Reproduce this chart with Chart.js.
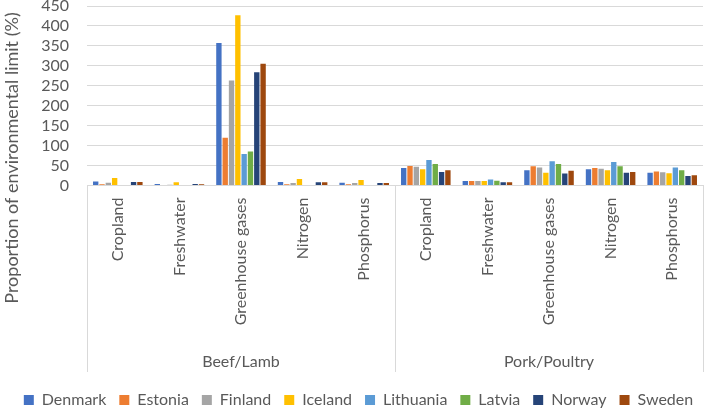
<!DOCTYPE html>
<html>
<head>
<meta charset="utf-8">
<script src="https://cdn.jsdelivr.net/npm/chart.js@4/dist/chart.umd.min.js"></script>
<style>
  html, body { margin: 0; padding: 0; background: #fff; }
  #wrap { width: 707px; height: 410px; }
</style>
</head>
<body>
<div id="wrap"><canvas id="chart"></canvas></div>
<script>
// categories (two groups of five)
const categories = ['Cropland', 'Freshwater', 'Greenhouse gases', 'Nitrogen', 'Phosphorus',
                    'Cropland', 'Freshwater', 'Greenhouse gases', 'Nitrogen', 'Phosphorus'];
const groups = ['Beef/Lamb', 'Pork/Poultry'];
const yTicks = [0, 50, 100, 150, 200, 250, 300, 350, 400, 450];

// values per country, % of environmental limit
const denmark   = [10, 4, 357, 9, 7, 44, 11, 38, 41, 32];
const estonia   = [3, 1, 120, 3, 3, 49, 11, 48, 44, 35];
const finland   = [7, 2, 263, 6, 6, 47, 11, 45, 42, 33];
const iceland   = [19, 8, 427, 16, 14, 41, 11, 32, 38, 31];
const lithuania = [1, 1, 79, 1, 1, 64, 15, 61, 59, 45];
const latvia    = [1, 1, 85, 1, 1, 54, 12, 54, 48, 38];
const norway    = [9, 4, 284, 8, 6, 34, 8, 30, 32, 24];
const sweden    = [9, 3, 305, 8, 6, 38, 8, 37, 34, 26];

const countries = ['Denmark', 'Estonia', 'Finland', 'Iceland', 'Lithuania', 'Latvia', 'Norway', 'Sweden'];
const series = [denmark, estonia, finland, iceland, lithuania, latvia, norway, sweden];
const colors = ['#4472C4', '#ED7D31', '#A5A5A5', '#FFC000', '#5B9BD5', '#70AD47', '#264478', '#9E480E'];

const FONT = 'Lato, "Liberation Sans", sans-serif';
const TEXT = '#595959';
const GRID = '#D9D9D9';

// group separators, group names and the y title
const groupPlugin = {
  id: 'groupPlugin',
  afterLayout(chart) {
    // push the legend a little lower and right, like the original
    const l = chart.legend;
    l.top += 8;
    l.bottom += 8;
    l.left += 7;
    l.right += 7;
  },
  afterDraw(chart) {
    const ctx = chart.ctx;
    const x = chart.scales.x;
    const top = chart.chartArea.bottom;
    const bottom = 372;
    const per = categories.length / groups.length;
    const step = (x.right - x.left) / categories.length;
    ctx.save();
    ctx.strokeStyle = GRID;
    ctx.lineWidth = 1;
    for (let g = 0; g <= groups.length; g++) {
      const px = Math.round(x.left + g * per * step) + 0.5;
      ctx.beginPath();
      ctx.moveTo(px, top);
      ctx.lineTo(px, bottom);
      ctx.stroke();
    }
    ctx.fillStyle = TEXT;
    ctx.font = '16px ' + FONT;
    ctx.textAlign = 'center';
    ctx.textBaseline = 'middle';
    groups.forEach((name, g) => {
      const cx = x.left + (g + 0.5) * per * step;
      ctx.fillText(name, cx, 362);
    });
    // y axis title
    ctx.translate(12, 158);
    ctx.rotate(-Math.PI / 2);
    ctx.font = '18px ' + FONT;
    ctx.fillText('Proportion of environmental limit (%)', 0, 0);
    ctx.restore();
  }
};

new Chart(document.getElementById('chart'), {
  type: 'bar',
  data: {
    labels: categories,
    datasets: series.map((d, i) => ({
      label: countries[i],
      data: d,
      backgroundColor: colors[i],
      borderWidth: 0,
      categoryPercentage: 0.82,
      barPercentage: 0.85
    }))
  },
  options: {
    responsive: true,
    maintainAspectRatio: false,
    animation: false,
    layout: { padding: { top: 0, right: 4, left: 0, bottom: 0 } },
    plugins: {
      legend: {
        position: 'bottom',
        labels: {
          color: TEXT,
          font: { family: FONT, size: 16 },
          boxWidth: 10,
          boxHeight: 10,
          padding: 13
        }
      },
      tooltip: { enabled: false }
    },
    scales: {
      x: {
        grid: { display: false },
        border: { color: GRID },
        ticks: {
          color: TEXT,
          font: { family: FONT, size: 16 },
          minRotation: 90,
          maxRotation: 90,
          padding: 4,
          autoSkip: false
        },
        afterFit(s) { s.height = 185.5; }
      },
      y: {
        min: 0,
        max: 450,
        afterBuildTicks(s) { s.ticks = yTicks.map(v => ({ value: v })); },
        grid: { color: GRID, drawTicks: false, tickLength: 0 },
        border: { display: false },
        ticks: {
          color: TEXT,
          font: { family: FONT, size: 16 },
          padding: 18,
          autoSkip: false
        },
        afterFit(s) {
          s.width = 87;
          s.paddingTop = 6;
          s.paddingBottom = 0;
        }
      }
    }
  },
  plugins: [groupPlugin]
});
</script>
</body>
</html>
